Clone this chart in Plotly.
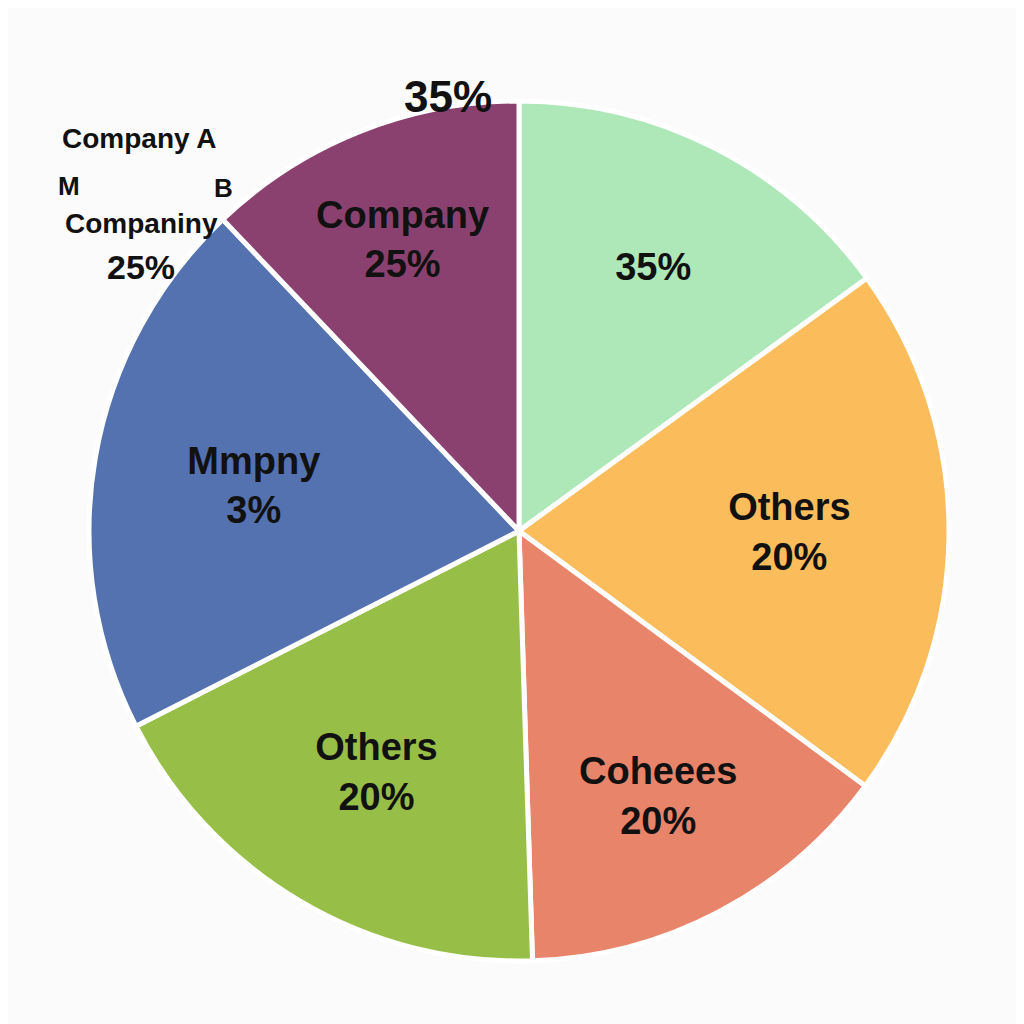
import plotly.graph_objects as go

labels = ["Light green", "Orange", "Salmon", "Green", "Blue", "Purple"]
values = [15.0, 20.1, 14.4, 18.0, 20.4, 12.1]
texts = ["<b>35%</b>", "<b>Others<br>20%</b>", "<b>Coheees<br>20%</b>", "<b>Others<br>20%</b>",
         "<b>Mmpny<br>3%</b>", "<b>Company<br>25%</b>"]
colors = ["#aee8b8", "#fbbd5c", "#e8846a", "#97bf47", "#5572b0", "#8b4170"]

W = 1024
OFF = 7
cx, cy, r = 518 - OFF, 530 - OFF, 430
fig = go.Figure(go.Pie(
    labels=labels, values=values, text=texts, textinfo="text",
    sort=False, direction="clockwise", rotation=0,
    marker=dict(colors=colors, line=dict(color="white", width=5)),
    textposition="inside", insidetextorientation="horizontal",
    textfont=dict(family="Liberation Sans Narrow, Liberation Sans", size=38, color="#111"),
    domain=dict(x=[(cx - r)/W, (cx + r)/W], y=[1-(cy + r)/W, 1-(cy - r)/W]),
    showlegend=False, hoverinfo="skip",
))

ann = [("35%", 447, 95, 44), ("Company A", 138, 137, 28), ("M", 68, 185, 26), ("B", 222, 187, 26),
       ("Companiny", 140, 222, 28), ("25%", 140, 266, 34)]
for t, x, y, s in ann:
    fig.add_annotation(text="<b>" + t + "</b>", x=(x - OFF)/W, y=1-(y - OFF)/W, xref="paper", yref="paper",
                       showarrow=False, xanchor="center", yanchor="middle",
                       font=dict(family="Liberation Sans Narrow, Liberation Sans", size=s, color="#111"))

fig.update_layout(width=1024, height=1024, margin=dict(l=0, r=0, t=0, b=0),
                  paper_bgcolor="#fbfbfb", plot_bgcolor="#fbfbfb")
fig.write_html("out.html")
